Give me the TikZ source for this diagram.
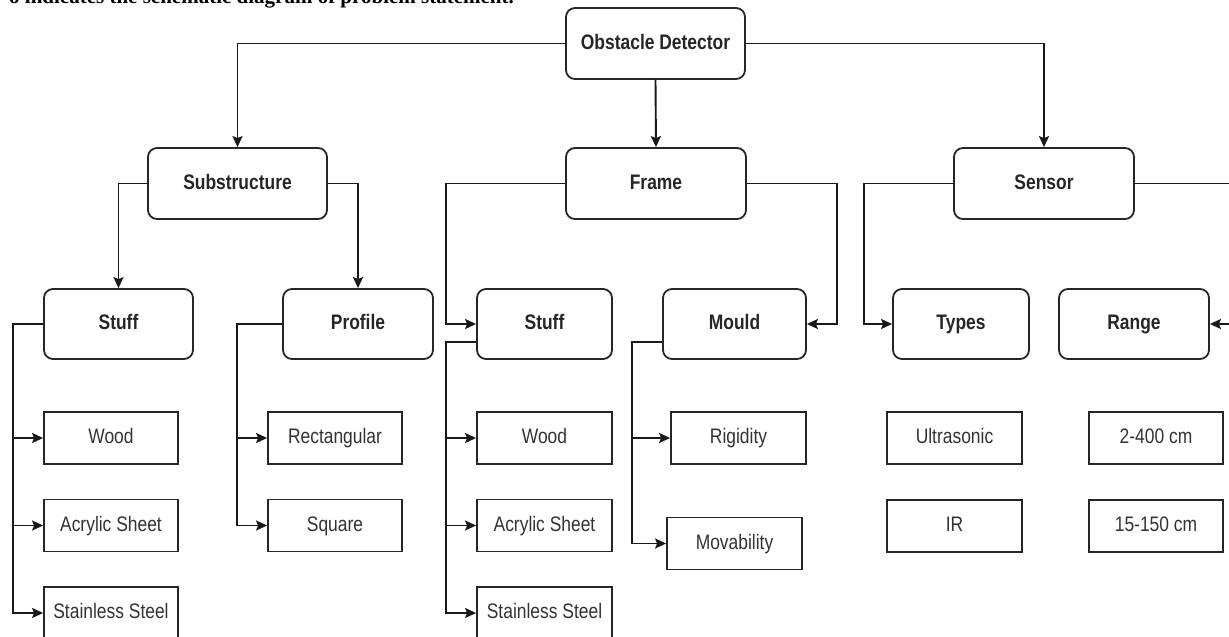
\documentclass[tikz,border=0pt]{standalone}
\usepackage{fontspec}
\setmainfont{Liberation Sans}[FakeStretch=0.83]
\newfontfamily\capfont{Liberation Serif}
\usetikzlibrary{arrows.meta}
\tikzset{
  rbox/.style={draw=black!85, line width=1.8pt, rounded corners=9pt, inner sep=0pt,
    text height=15pt, text depth=4pt,
    text=black!85, font=\fontsize{21}{25}\selectfont\bfseries},
  leaf/.style={draw=black!85, line width=1.8pt, inner sep=0pt, minimum height=52pt,
    text height=15pt, text depth=4pt,
    text=black!80, font=\fontsize{21}{25}\selectfont},
  conn/.style={draw=black!90, line width=1.9pt},
  arr/.style={conn, -{Stealth[length=11pt,width=10pt,inset=2pt]}}
}
\begin{document}
\begin{tikzpicture}[x=1pt,y=-1pt]
\useasboundingbox (0,0) rectangle (1229,637);
\clip (0,0) rectangle (1229,637);
\fill[white] (0,0) rectangle (1229,637);
\node[anchor=base west, inner sep=0pt, font=\capfont\fontsize{21}{24}\selectfont\bfseries] (cap) at (9,3.5) {o indicates the schematic diagram of problem statement.};
% main boxes
\node[rbox, minimum width=179pt, minimum height=71pt] (OD) at (655.5,43.5) {Obstacle Detector};
\node[rbox, minimum width=179pt, minimum height=71pt] (Sub) at (237.5,183.5) {Substructure};
\node[rbox, minimum width=180pt, minimum height=71pt] (Frame) at (656,183.5) {Frame};
\node[rbox, minimum width=180pt, minimum height=71pt] (Sensor) at (1044,183.5) {Sensor};
\node[rbox, minimum width=149pt, minimum height=70pt] (Stuff1) at (118.5,324) {Stuff};
\node[rbox, minimum width=150pt, minimum height=70pt] (Profile) at (358,324) {Profile};
\node[rbox, minimum width=135pt, minimum height=70pt] (Stuff2) at (544.5,324) {Stuff};
\node[rbox, minimum width=143pt, minimum height=70pt] (Mould) at (734.5,324) {Mould};
\node[rbox, minimum width=136pt, minimum height=70pt] (Types) at (961,324) {Types};
\node[rbox, minimum width=150pt, minimum height=70pt] (Range) at (1134,324) {Range};
% leaves
\node[leaf, minimum width=134pt] (Wood1) at (111,438) {Wood};
\node[leaf, minimum width=134pt] (Acr1) at (111,525.5) {Acrylic Sheet};
\node[leaf, minimum width=134pt] (Stn1) at (111,613) {Stainless Steel};
\node[leaf, minimum width=134pt] (Rect) at (335,438) {Rectangular};
\node[leaf, minimum width=134pt] (Square) at (335,525.5) {Square};
\node[leaf, minimum width=135pt] (Wood2) at (544.5,438) {Wood};
\node[leaf, minimum width=135pt] (Acr2) at (544.5,525.5) {Acrylic Sheet};
\node[leaf, minimum width=135pt] (Stn2) at (544.5,613) {Stainless Steel};
\node[leaf, minimum width=135pt] (Rigid) at (738.5,438) {Rigidity};
\node[leaf, minimum width=135pt] (Mov) at (734.5,543.5) {Movability};
\node[leaf, minimum width=135pt] (Ultra) at (954.5,438) {Ultrasonic};
\node[leaf, minimum width=135pt] (IR) at (954.5,526) {IR};
\node[leaf, minimum width=134pt] (R1) at (1156,438) {2-400 cm};
\node[leaf, minimum width=134pt] (R2) at (1156,526) {15-150 cm};
% top level connectors
\draw[arr] (OD.west) -| (Sub.north);
\draw[arr] (OD.east) -| (Sensor.north);
\draw[arr] (OD.south) -- (Frame.north);
\draw[arr] (Sub.west) -| (Stuff1.north);
\draw[arr] (Sub.east) -| (Profile.north);
\draw[arr] (Frame.west) -| ([xshift=-30pt]Stuff2.west) -- (Stuff2.west);
\draw[arr] (Frame.east) -| ([xshift=30pt]Mould.east) -- (Mould.east);
\draw[arr] (Sensor.west) -| ([xshift=-28pt]Types.west) -- (Types.west);
\draw[arr] (Sensor.east) -| ([xshift=30pt]Range.east) -- (Range.east);
% branches
\draw[arr] (Stuff1.west) -| ([xshift=-30pt]Wood1.west) -- (Wood1.west);
\draw[arr] (Stuff1.west) -| ([xshift=-30pt]Acr1.west) -- (Acr1.west);
\draw[arr] (Stuff1.west) -| ([xshift=-30pt]Stn1.west) -- (Stn1.west);
\draw[arr] (Profile.west) -| ([xshift=-30pt]Rect.west) -- (Rect.west);
\draw[arr] (Profile.west) -| ([xshift=-30pt]Square.west) -- (Square.west);
\draw[arr] ([yshift=-18pt]Stuff2.west) -| ([xshift=-30pt]Wood2.west) -- (Wood2.west);
\draw[arr] ([yshift=-18pt]Stuff2.west) -| ([xshift=-30pt]Acr2.west) -- (Acr2.west);
\draw[arr] ([yshift=-18pt]Stuff2.west) -| ([xshift=-30pt]Stn2.west) -- (Stn2.west);
\draw[arr] ([yshift=-18pt]Mould.west) -| ([xshift=-38pt]Rigid.west) -- (Rigid.west);
\draw[arr] ([yshift=-18pt]Mould.west) -| ([xshift=-34pt]Mov.west) -- (Mov.west);
\end{tikzpicture}
\end{document}
